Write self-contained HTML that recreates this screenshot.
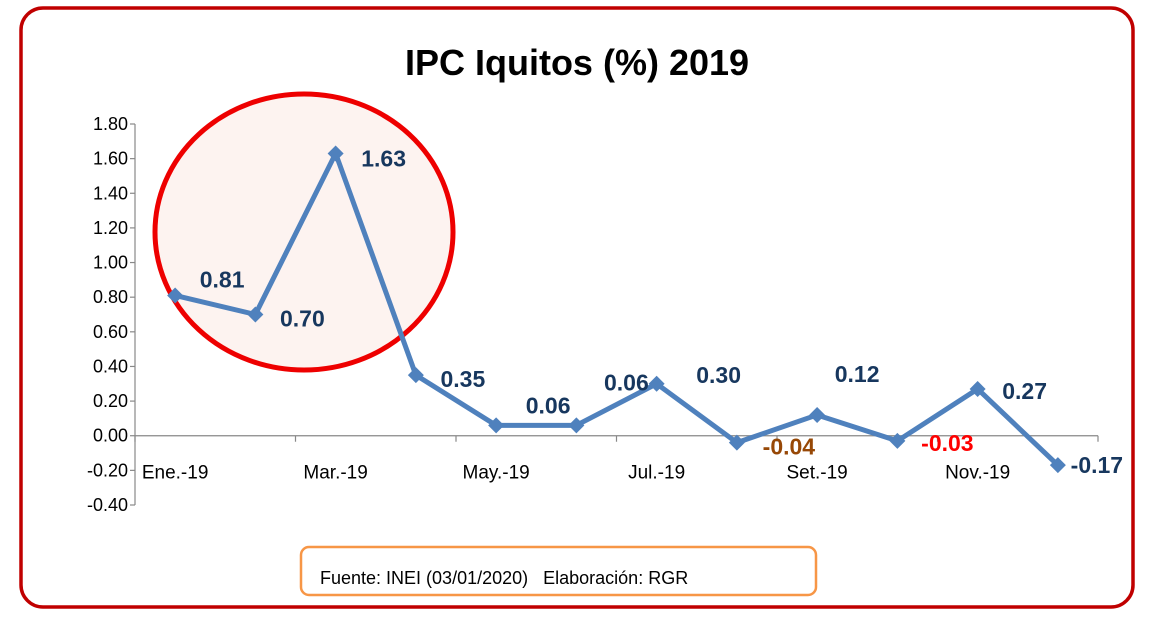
<!DOCTYPE html>
<html><head><meta charset="utf-8"><style>
body{margin:0;background:#fff;}
svg{display:block;font-family:"Liberation Sans",sans-serif;}
</style></head><body>
<svg id="c" width="1150" height="618">
<rect x="21" y="8" width="1112" height="599" rx="22" fill="#fff" stroke="#c00000" stroke-width="3.5"/>
<text x="577" y="75" text-anchor="middle" font-size="36" font-weight="bold" fill="#000">IPC Iquitos (%) 2019</text>
<ellipse cx="304" cy="232" rx="149" ry="138" fill="#fdf3f0" stroke="#ee0000" stroke-width="5"/>
<g id="axes"></g>
<g id="series"></g>
<rect x="301" y="547" width="515" height="48" rx="8" fill="#fff" stroke="#f79646" stroke-width="2.5"/>
<text x="320" y="584" font-size="18" fill="#000" xml:space="preserve">Fuente: INEI (03/01/2020)   Elaboración: RGR</text>
</svg>
<script>
const categories=["Ene.-19","Feb.-19","Mar.-19","Abr.-19","May.-19","Jun.-19","Jul.-19","Ago.-19","Set.-19","Oct.-19","Nov.-19","Dic.-19"];
const values=[0.81,0.70,1.63,0.35,0.06,0.06,0.30,-0.04,0.12,-0.03,0.27,-0.17];
const yTicks=[1.8,1.6,1.4,1.2,1.0,0.8,0.6,0.4,0.2,0,-0.2,-0.4];
const labelColors=["#17375e","#17375e","#17375e","#17375e","#17375e","#17375e","#17375e","#974806","#17375e","#ff0000","#17375e","#17375e"];
const labelOffsets=[[47,-9],[47,11],[48,12],[47,11],[52,-13],[50,-36],[62,-2],[52,11],[40,-34],[50,9],[47,9],[39,7]];
const NS="http://www.w3.org/2000/svg";
const x0=135,x1=1098,yTop=124,yBot=505,vMax=1.8,vMin=-0.4;
const step=(x1-x0)/categories.length;
const xs=i=>x0+step*(i+0.5);
const ys=v=>yTop+(vMax-v)/(vMax-vMin)*(yBot-yTop);
function mk(tag,attrs,parent){const e=document.createElementNS(NS,tag);for(const k in attrs)e.setAttribute(k,attrs[k]);parent.appendChild(e);return e;}
const ax=document.getElementById('axes');
let l=mk('line',{x1:x0,y1:yTop,x2:x0,y2:yBot,stroke:'#888','stroke-width':1.2},ax);


yTicks.forEach(t=>{
 const y=ys(t);
 const tk=mk('line',{x1:x0-5,y1:y,x2:x0,y2:y,stroke:'#888','stroke-width':1.2},ax);
 
 
 const tx=mk('text',{x:x0-7,y:y+6,'text-anchor':'end','font-size':18,fill:'#000'},ax);
 tx.textContent=t.toFixed(2);
 
 
});
const zy=ys(0);
l=mk('line',{x1:x0,y1:zy,x2:x1,y2:zy,stroke:'#888','stroke-width':1.2},ax);


for(let i=0;i<=categories.length;i+=2){
 const x=x0+step*i;
 const tk=mk('line',{x1:x,y1:zy,x2:x,y2:zy+6,stroke:'#888','stroke-width':1.2},ax);
 
 
}
categories.forEach((c,i)=>{
 if(i%2)return;
 const tx=mk('text',{x:xs(i),y:zy+43,'text-anchor':'middle','font-size':19,fill:'#000'},ax);
 tx.textContent=c;
 
 
});
const sg=document.getElementById('series');
const pts=values.map((v,i)=>xs(i)+','+ys(v)).join(' ');
const pl=mk('polyline',{points:pts,fill:'none',stroke:'#4f81bd','stroke-width':5,'stroke-linejoin':'round'},sg);


values.forEach((v,i)=>{
 const x=xs(i),y=ys(v),s=8;
 const m=mk('polygon',{points:`${x},${y-s} ${x+s},${y} ${x},${y+s} ${x-s},${y}`,fill:'#4f81bd'},sg);
 
 
 const o=labelOffsets[i];
 const t=mk('text',{x:x+o[0],y:y+o[1]+1,'text-anchor':'middle','font-size':23,'font-weight':'bold',fill:labelColors[i]},sg);
 t.textContent=v.toFixed(2);
 
 
});
</script>
</body></html>
